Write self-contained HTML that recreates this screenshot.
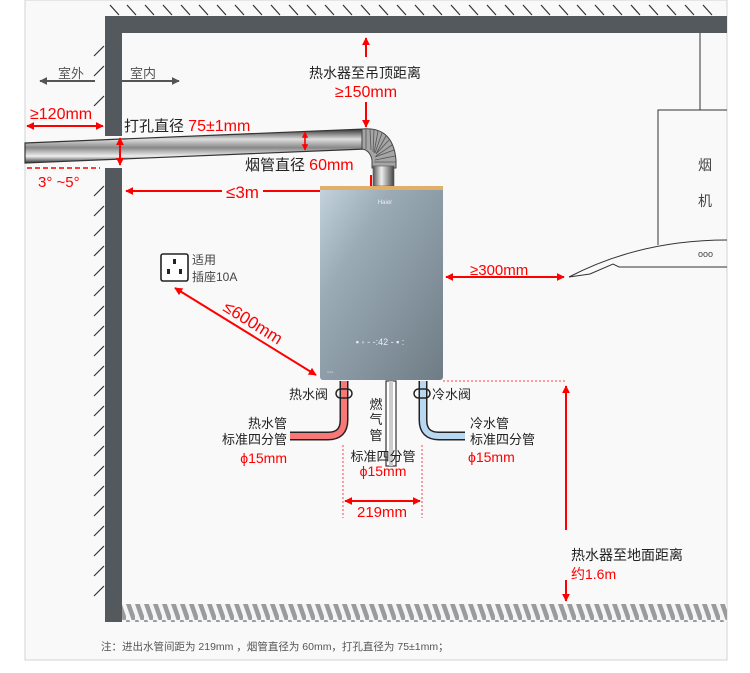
<!DOCTYPE html>
<html><head><meta charset="utf-8"><style>
html,body{margin:0;padding:0;background:#fff;}
svg{display:block;font-family:"Liberation Sans","Noto Sans CJK SC",sans-serif;}
</style></head><body>
<svg width="750" height="673" viewBox="0 0 750 673" xmlns="http://www.w3.org/2000/svg">
<defs>
<linearGradient id="pipe" x1="0" y1="0" x2="0" y2="1">
<stop offset="0" stop-color="#333"/><stop offset="0.3" stop-color="#ddd"/><stop offset="0.55" stop-color="#888"/><stop offset="0.8" stop-color="#eee"/><stop offset="1" stop-color="#333"/></linearGradient>
<linearGradient id="vpipe" x1="0" y1="0" x2="1" y2="0">
<stop offset="0" stop-color="#555"/><stop offset="0.4" stop-color="#eee"/><stop offset="1" stop-color="#444"/></linearGradient>
<linearGradient id="box" x1="0" y1="0" x2="1" y2="1">
<stop offset="0" stop-color="#c4d3dc"/><stop offset="0.3" stop-color="#9aabb6"/><stop offset="1" stop-color="#6f7c85"/></linearGradient>
<pattern id="hatch" width="9" height="20" patternUnits="userSpaceOnUse">
<rect width="9" height="20" fill="#f5f5f5"/><path d="M1 0 L8 20" stroke="#9a9b9d" stroke-width="4.5"/></pattern>
<marker id="ar" viewBox="0 0 10 10" refX="9" refY="5" markerWidth="4" markerHeight="4" orient="auto-start-reverse"><path d="M0 0L10 5L0 10z" fill="#f00"/></marker>
<marker id="ag" viewBox="0 0 10 10" refX="9" refY="5" markerWidth="4" markerHeight="4" orient="auto-start-reverse"><path d="M0 0L10 5L0 10z" fill="#555"/></marker>
</defs>
<rect width="750" height="673" fill="#fff"/>
<rect x="25" y="0" width="702" height="660" fill="#f9f9f9" stroke="#cfd3d8" stroke-width="1"/>
<g stroke="#333" stroke-width="1.2">
<path d="M110 5l9 10M127 5l9 10M145 5l9 10M163 5l9 10M181 5l9 10M199 5l9 10M217 5l9 10M235 5l9 10M253 5l9 10M271 5l9 10M289 5l9 10M307 5l9 10M325 5l9 10M343 5l9 10M361 5l9 10M379 5l9 10M397 5l9 10M415 5l9 10M433 5l9 10M451 5l9 10M469 5l9 10M487 5l9 10M505 5l9 10M523 5l9 10M541 5l9 10M559 5l9 10M577 5l9 10M595 5l9 10M613 5l9 10M631 5l9 10M649 5l9 10M667 5l9 10M685 5l9 10M703 5l9 10"/>
<path d="M94 56l10-10M94 76l10-10M94 106l10-10M94 196l10-10M94 216l10-10M94 236l10-10M94 256l10-10M94 276l10-10M94 296l10-10M94 316l10-10M94 336l10-10M94 356l10-10M94 376l10-10M94 396l10-10M94 416l10-10M94 436l10-10M94 456l10-10M94 476l10-10M94 496l10-10M94 516l10-10M94 536l10-10M94 556l10-10M94 576l10-10M94 596l10-10"/>
</g>
<rect x="105" y="16" width="622" height="17" fill="#53595d"/>
<rect x="105" y="16" width="17" height="120" fill="#53595d"/>
<rect x="105" y="168" width="17" height="454" fill="#53595d"/>
<rect x="122" y="604" width="605" height="18" fill="url(#hatch)"/>
<line x1="95" y1="81" x2="40" y2="81" stroke="#555" stroke-width="2" marker-end="url(#ag)"/>
<line x1="122" y1="81" x2="179" y2="81" stroke="#555" stroke-width="2" marker-end="url(#ag)"/>
<text x="58" y="78" font-size="13" fill="#555">室外</text>
<text x="130" y="78" font-size="13" fill="#555">室内</text>
<polygon points="25,143 365,129 365,149 25,163" fill="url(#pipe)" stroke="#333" stroke-width="1.2"/>
<path d="M362 129 Q393 126 396 160 L396 168 L372 168 L372 160 Q370 150 362 149 Z" fill="#a5a5a5" stroke="#444" stroke-width="1"/>
<g stroke="#555" stroke-width="0.8"><path d="M366 129v20M370 129l1 21M374 130l-1 22M378 131l-4 22M382 133l-7 20M386 136l-10 18M389 140l-13 14M392 145l-16 11M394 150l-19 7M395 156l-20 4M396 162h-22"/></g>
<rect x="373" y="166" width="21" height="20" fill="url(#vpipe)" stroke="#555" stroke-width="0.6"/>
<line x1="366" y1="57" x2="366" y2="38" stroke="#f00" stroke-width="2" marker-end="url(#ar)"/>
<text x="365" y="78" font-size="14" text-anchor="middle" fill="#222">热水器至吊顶距离</text>
<text x="366" y="97" font-size="16" text-anchor="middle" fill="#f00">≥150mm</text>
<line x1="366" y1="102" x2="366" y2="127" stroke="#f00" stroke-width="2" marker-end="url(#ar)"/>
<text x="30" y="119" font-size="16" fill="#f00">≥120mm</text>
<line x1="27" y1="126" x2="103" y2="126" stroke="#f00" stroke-width="2" marker-start="url(#ar)" marker-end="url(#ar)"/>
<text x="124" y="131" font-size="15" fill="#222">打孔直径 <tspan fill="#f00" font-size="16">75±1mm</tspan></text>
<line x1="120" y1="138" x2="120" y2="165" stroke="#f00" stroke-width="2" marker-start="url(#ar)" marker-end="url(#ar)"/>
<line x1="305" y1="132" x2="305" y2="150" stroke="#f00" stroke-width="1.6" marker-start="url(#ar)" marker-end="url(#ar)"/>
<text x="245" y="170" font-size="15" fill="#222">烟管直径 <tspan fill="#f00" font-size="16">60mm</tspan></text>
<line x1="27" y1="168" x2="100" y2="168" stroke="#f00" stroke-width="1.5" stroke-dasharray="5,3"/>
<text x="38" y="187" font-size="15" fill="#f00">3° ~5°</text>
<line x1="126" y1="191" x2="222" y2="191" stroke="#f00" stroke-width="2" marker-start="url(#ar)"/>
<text x="226" y="198" font-size="17" fill="#f00">≤3m</text>
<line x1="263" y1="191" x2="369" y2="191" stroke="#f00" stroke-width="2" marker-end="url(#ar)"/>
<line x1="371" y1="175" x2="371" y2="194" stroke="#f00" stroke-width="2"/>
<rect x="320" y="186" width="123" height="194" rx="3" fill="url(#box)"/>
<rect x="320" y="186" width="123" height="4" fill="#e0b06a"/>
<text x="385" y="204" font-size="6" fill="#eee" text-anchor="middle">Haier</text>
<text x="380" y="345" font-size="9" fill="#e8eef2" text-anchor="middle">▪ ◦ - -:42 - ▪ :</text>
<text x="327" y="374" font-size="6" fill="#ddd">▫▫▫</text>
<rect x="161" y="254" width="27" height="27" rx="2" fill="#fff" stroke="#222" stroke-width="1.6"/>
<rect x="173" y="259" width="3" height="5" fill="#222"/><rect x="167" y="269" width="3" height="5" fill="#222"/><rect x="179" y="269" width="3" height="5" fill="#222"/>
<text x="192" y="264" font-size="12" fill="#444">适用</text>
<text x="192" y="281" font-size="12" fill="#444">插座10A</text>
<line x1="175" y1="288" x2="316" y2="375" stroke="#f00" stroke-width="2" marker-start="url(#ar)" marker-end="url(#ar)"/>
<text x="222" y="310" font-size="17" fill="#f00" transform="rotate(32 222 310)">≤600mm</text>
<line x1="700" y1="33" x2="700" y2="110" stroke="#333" stroke-width="1"/>
<path d="M658 245 V110 H727" fill="none" stroke="#333" stroke-width="1"/>
<path d="M569 277 Q640 240 727 240" fill="none" stroke="#333" stroke-width="1"/>
<path d="M569 277 L590 274 L613 264 L619 267 L727 267" fill="none" stroke="#333" stroke-width="1"/>
<text x="705" y="170" font-size="14" fill="#444" text-anchor="middle">烟</text>
<text x="705" y="206" font-size="14" fill="#444" text-anchor="middle">机</text>
<text x="698" y="257" font-size="9" fill="#444">ooo</text>
<line x1="446" y1="277" x2="564" y2="277" stroke="#f00" stroke-width="2" marker-start="url(#ar)" marker-end="url(#ar)"/>
<text x="470" y="275" font-size="15" fill="#f00">≥300mm</text>
<path d="M344 381 V420 Q344 436 328 436 H290" fill="none" stroke="#222" stroke-width="9"/>
<path d="M344 381 V420 Q344 436 328 436 H290" fill="none" stroke="#f87878" stroke-width="6"/>
<path d="M423 381 V420 Q423 436 439 436 H465" fill="none" stroke="#222" stroke-width="9"/>
<path d="M423 381 V420 Q423 436 439 436 H465" fill="none" stroke="#b8d8f2" stroke-width="6"/>
<rect x="386" y="381" width="10" height="85" fill="#fff" stroke="#333" stroke-width="1.2"/>
<rect x="389" y="381" width="4" height="85" fill="#ccc"/>
<rect x="336" y="389" width="16" height="9" rx="4.5" fill="none" stroke="#222" stroke-width="1.5"/>
<rect x="414" y="389" width="16" height="9" rx="4.5" fill="none" stroke="#222" stroke-width="1.5"/>
<text x="289" y="399" font-size="13" fill="#222">热水阀</text>
<text x="432" y="399" font-size="13" fill="#222">冷水阀</text>
<text x="376" y="409" font-size="13" fill="#222" text-anchor="middle">燃</text>
<text x="376" y="424" font-size="13" fill="#222" text-anchor="middle">气</text>
<text x="376" y="440" font-size="13" fill="#222" text-anchor="middle">管</text>
<text x="287" y="428" font-size="13" fill="#222" text-anchor="end">热水管</text>
<text x="287" y="444" font-size="13" fill="#222" text-anchor="end">标准四分管</text>
<text x="287" y="463" font-size="14" fill="#f00" text-anchor="end">ϕ15mm</text>
<text x="470" y="428" font-size="13" fill="#222">冷水管</text>
<text x="470" y="444" font-size="13" fill="#222">标准四分管</text>
<text x="468" y="462" font-size="14" fill="#f00">ϕ15mm</text>
<text x="383" y="461" font-size="13" fill="#222" text-anchor="middle">标准四分管</text>
<text x="383" y="476" font-size="14" fill="#f00" text-anchor="middle">ϕ15mm</text>
<g stroke="#f44" stroke-width="1" stroke-dasharray="2,2" fill="none">
<line x1="343" y1="445" x2="343" y2="518"/><line x1="422" y1="445" x2="422" y2="518"/>
<line x1="443" y1="381" x2="565" y2="381"/></g>
<line x1="345" y1="501" x2="420" y2="501" stroke="#f00" stroke-width="2" marker-start="url(#ar)" marker-end="url(#ar)"/>
<text x="382" y="517" font-size="15" fill="#f00" text-anchor="middle">219mm</text>
<line x1="566" y1="530" x2="566" y2="386" stroke="#f00" stroke-width="2" marker-end="url(#ar)"/>
<line x1="566" y1="580" x2="566" y2="601" stroke="#f00" stroke-width="2" marker-end="url(#ar)"/>
<text x="571" y="560" font-size="14" fill="#222">热水器至地面距离</text>
<text x="571" y="579" font-size="14" fill="#f00">约1.6m</text>
<text x="101" y="650" font-size="10.5" fill="#555">注：进出水管间距为 219mm ，烟管直径为 60mm，打孔直径为 75±1mm；</text>
</svg>
</body></html>
